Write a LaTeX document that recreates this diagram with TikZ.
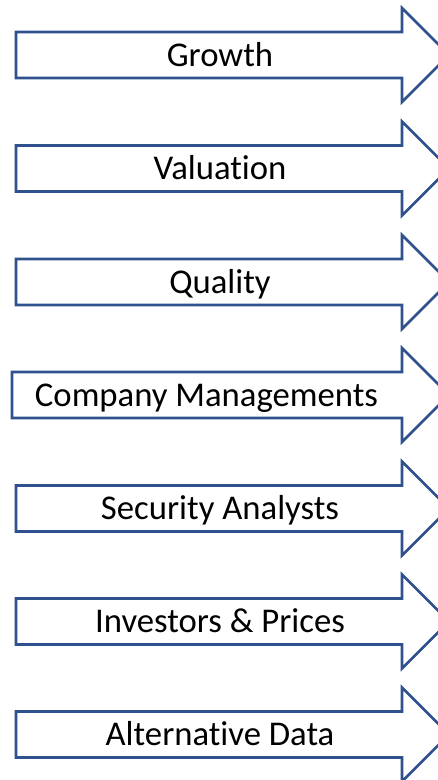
\documentclass[tikz,border=0pt]{standalone}
\usepackage{fontspec}
\setmainfont{Carlito}[Ligatures={NoCommon}]
\definecolor{arrowblue}{HTML}{2F528F}
\begin{document}
\begin{tikzpicture}[x=1pt,y=-1pt,
  arrowshape/.style={draw=arrowblue,line width=2.6pt,fill=white,line join=miter},
  label/.style={font=\fontsize{34.7}{40}\selectfont,text=black,inner sep=0pt,anchor=base}]
\useasboundingbox (0,0) rectangle (438,780);
\clip (0,0) rectangle (438,780);
\foreach \cy/\xl/\tx/\nm/\txt in {
  55/16/220/growth/Growth,
  168.5/16/220/valuation/Valuation,
  282/16/220/quality/Quality,
  395/12/206.5/company/Company Managements,
  508.5/16/220/security/Security Analysts,
  621.5/16/220/investors/Investors \& Prices,
  734.5/16/220/alternative/Alternative Data}{
  \draw[arrowshape] (\xl,\cy-23) -- (402,\cy-23) -- (402,\cy-47) -- (449,\cy)
     -- (402,\cy+47) -- (402,\cy+23) -- (\xl,\cy+23) -- cycle;
  \node[label] (\nm) at (\tx,\cy+11) {\txt};
}
\end{tikzpicture}
\end{document}
